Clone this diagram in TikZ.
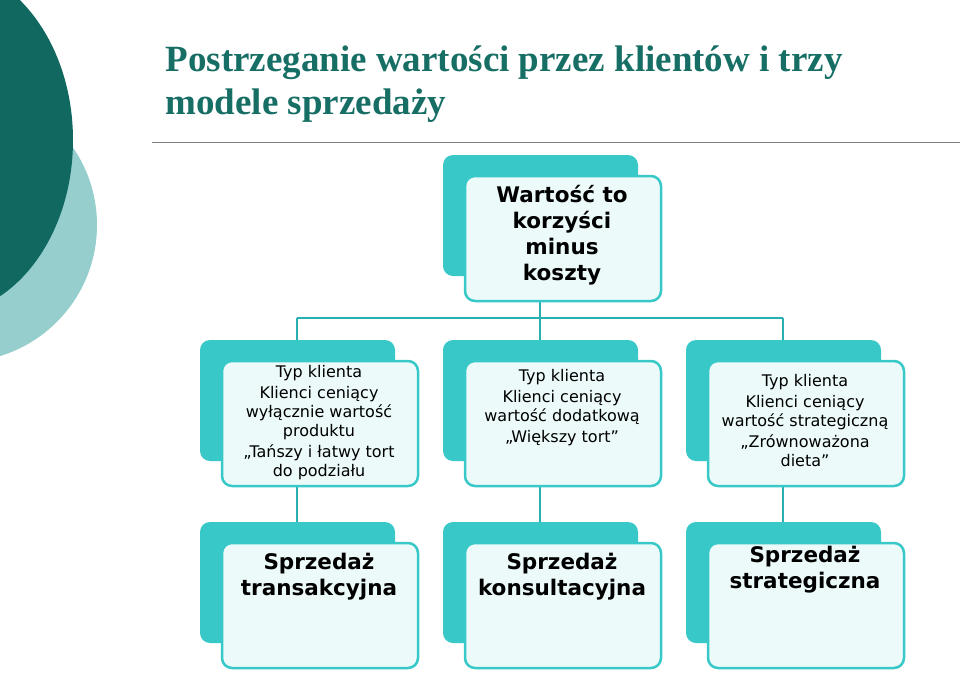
\documentclass[tikz,border=0pt]{standalone}
\usepackage{fontspec}
\setmainfont{DejaVu Sans}
\newfontfamily\titlefont{Liberation Serif}
\definecolor{tealback}{RGB}{56,200,200}
\definecolor{frontfill}{RGB}{236,250,250}
\definecolor{darkteal}{RGB}{16,104,96}
\definecolor{lightteal}{RGB}{150,206,206}
\definecolor{titlecol}{RGB}{22,110,100}
\definecolor{linecol}{RGB}{40,175,178}
\begin{document}
\begin{tikzpicture}[x=1pt,y=-1pt,
  backbox/.style={fill=tealback,rounded corners=10pt},
  frontbox/.style={draw=tealback,line width=2.5pt,fill=frontfill,rounded corners=10pt},
  conn/.style={draw=linecol,line width=2.5pt},
  txt/.style={align=center,font=\fontsize{16}{19}\selectfont,text=black},
  big/.style={align=center,font=\fontsize{21.5}{26}\selectfont\bfseries,text=black}]
\useasboundingbox (0,0) rectangle (960,673);
\fill[lightteal] (-40,225) circle (137);
\fill[darkteal] (-60,140) ellipse [x radius=133, y radius=175];
\node[anchor=west,align=left,text=titlecol,font=\titlefont\fontsize{37}{43}\selectfont\bfseries] (title) at (162,84) {Postrzeganie wartości przez klientów i trzy\\modele sprzedaży};
\draw[gray,line width=1pt] (152,142) -- (960,142);
% connectors
\coordinate (top) at (540,300);
\coordinate (hub) at (540,318);
\coordinate (hl) at (297,318);
\coordinate (hr) at (783,318);
\draw[conn] (top) -- (hub) (hl) -- (hr);
\foreach \x in {297,540,783}{
  \draw[conn] (\x,318) -- (\x,340);
  \draw[conn] (\x,485) -- (\x,522);
}
% boxes
\newcommand\unit[6]{%
  \fill[backbox] (#1,#2) rectangle ++(195,121);
  \draw[frontbox] (#1+22,#2+21) rectangle ++(196,125);
  \node[#5] (#3) at (#1+119,#2+#6) {#4};}
\unit{443}{155}{root}{Wartość to\\korzyści\\minus\\koszty}{big}{80}
\unit{200}{340}{a}{Typ klienta\\[2pt]Klienci ceniący\\wyłącznie wartość\\produktu\\[2pt]„Tańszy i łatwy tort\\do podziału}{txt}{83}
\unit{443}{340}{b}{Typ klienta\\[2pt]Klienci ceniący\\wartość dodatkową\\[2pt]„Większy tort”}{txt}{68}
\unit{686}{340}{c}{Typ klienta\\[2pt]Klienci ceniący\\wartość strategiczną\\[2pt]„Zrównoważona\\dieta”}{txt}{81}
\unit{200}{522}{d}{Sprzedaż\\transakcyjna}{big}{55}
\unit{443}{522}{e}{Sprzedaż\\konsultacyjna}{big}{55}
\unit{686}{522}{f}{Sprzedaż\\strategiczna}{big}{48}
\end{tikzpicture}
\end{document}
